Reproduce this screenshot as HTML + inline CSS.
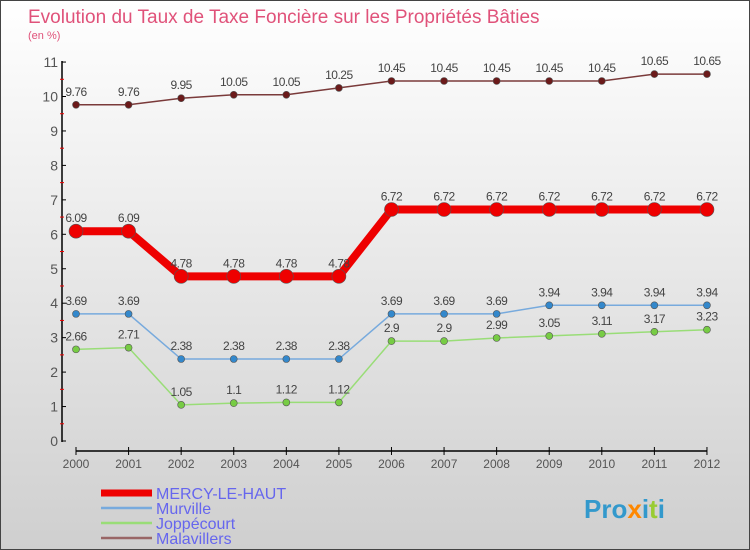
<!DOCTYPE html>
<html><head><meta charset="utf-8"><style>
body{margin:0}
#c{width:750px;height:550px;position:relative;background:linear-gradient(#ffffff,#cfcfcf);box-sizing:border-box;border:1px solid #444;overflow:hidden;font-family:"Liberation Sans",sans-serif}
</style></head><body>
<div id="c">
<svg id="s" width="750" height="550" style="font-family:'Liberation Sans',sans-serif"></svg>
</div>
<script>
const years=[2000,2001,2002,2003,2004,2005,2006,2007,2008,2009,2010,2011,2012];
const mercy=[6.09,6.09,4.78,4.78,4.78,4.78,6.72,6.72,6.72,6.72,6.72,6.72,6.72];
const murville=[3.69,3.69,2.38,2.38,2.38,2.38,3.69,3.69,3.69,3.94,3.94,3.94,3.94];
const joppe=[2.66,2.71,1.05,1.1,1.12,1.12,2.9,2.9,2.99,3.05,3.11,3.17,3.23];
const mala=[9.76,9.76,9.95,10.05,10.05,10.25,10.45,10.45,10.45,10.45,10.45,10.65,10.65];
const yTicks=[0,1,2,3,4,5,6,7,8,9,10,11];
const NS="http://www.w3.org/2000/svg",s=document.getElementById('s');
const X=i=>75+i*52.58, Y=v=>440-v*34.45;
function mk(t,a,p){const e=document.createElementNS(NS,t);for(const k in a)e.setAttribute(k,a[k]);(p||s).appendChild(e);return e;}
let t=mk('text',{x:27,y:22,'font-size':19,fill:'#e0527a'});t.textContent='Evolution du Taux de Taxe Foncière sur les Propriétés Bâties';


t=mk('text',{x:27,y:38,'font-size':11,fill:'#e0527a'});t.textContent='(en %)';


let a=mk('line',{x1:61,y1:60,x2:61,y2:441,stroke:'#000','stroke-width':1.5});


yTicks.forEach(v=>{
 let l=mk('line',{x1:61,x2:65,y1:Y(v),y2:Y(v),stroke:'#000'});
 
 
 if(v<11){let m=mk('line',{x1:59,x2:63,y1:Y(v+0.5),y2:Y(v+0.5),stroke:'#e00'});
 
 }
 let tt=mk('text',{x:57,y:Y(v)+5,'font-size':14,fill:'#555','text-anchor':'end'});tt.textContent=v;
 
 
});
a=mk('line',{x1:75,y1:450,x2:706,y2:450,stroke:'#000','stroke-width':1.5});


years.forEach((y,i)=>{
 let l=mk('line',{x1:X(i),x2:X(i),y1:446,y2:454,stroke:'#000'});
 
 
 let tt=mk('text',{x:X(i),y:467,'font-size':12,fill:'#555','text-anchor':'middle'});tt.textContent=y;
 
 
});
function series(d,col,dot,w,r,name){
 let p=mk('polyline',{points:d.map((v,i)=>X(i)+','+Y(v)).join(' '),fill:'none',stroke:col,'stroke-width':w});
 
 
 d.forEach((v,i)=>{
  let c=mk('circle',{cx:X(i),cy:Y(v),r:r,fill:dot,stroke:'#555','stroke-width':0.6});
  
  
  let tt=mk('text',{x:X(i),y:Y(v)-9,'font-size':12,fill:'#444','text-anchor':'middle','letter-spacing':'-0.5'});tt.textContent=String(v);
  
  
 });
}
series(mala,'#7a3a3a','#6b1a1a',1.5,3.5,'malavillers');
series(joppe,'#99dd77','#77cc44',1.5,3.5,'joppecourt');
series(murville,'#77aadd','#3388cc',1.5,3.5,'murville');
series(mercy,'#ee0000','#ee0000',8,7,'mercy-le-haut');
const leg=[['MERCY-LE-HAUT','#ee0000',7],['Murville','#77aadd',2.5],['Joppécourt','#99dd77',2.5],['Malavillers','#996666',2.5]];
leg.forEach((g,i)=>{
 let y=492+i*15;
 let l=mk('line',{x1:100,x2:151,y1:y,y2:y,stroke:g[1],'stroke-width':g[2]});
 
 
 let tt=mk('text',{x:155,y:y+6,'font-size':16,fill:'#6666ee'});tt.textContent=g[0];
 
 
});
t=mk('text',{x:583,y:517,'font-size':26,'font-weight':'bold',fill:'#3399cc'});
t.innerHTML='Pro<tspan fill="#ff8800">x</tspan>i<tspan fill="#99cc33">t</tspan>i';


</script>
</body></html>
